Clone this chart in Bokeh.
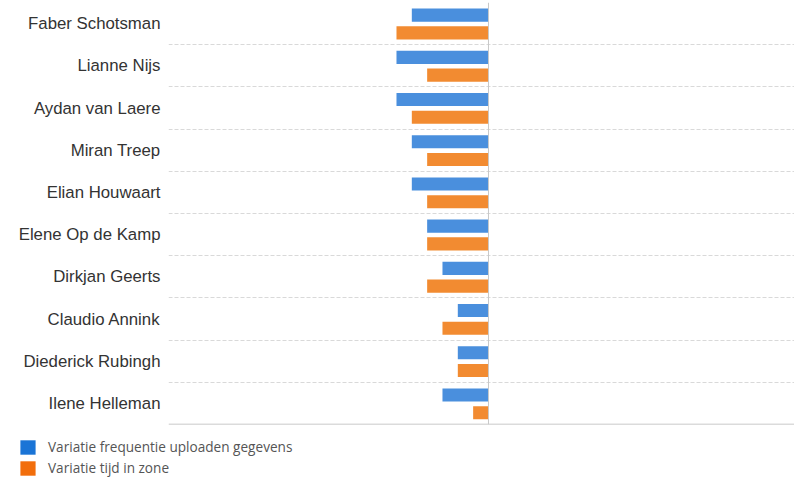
from bokeh.plotting import figure
from bokeh.models import ColumnDataSource, Range1d, FixedTicker, Span, Legend, LegendItem
from bokeh.embed import file_html
from bokeh.resources import INLINE

names = ["Faber Schotsman", "Lianne Nijs", "Aydan van Laere", "Miran Treep", "Elian Houwaart",
         "Elene Op de Kamp", "Dirkjan Geerts", "Claudio Annink", "Diederick Rubingh", "Ilene Helleman"]
freq = [-5, -6, -6, -5, -5, -4, -3, -2, -2, -3]
tijd = [-6, -4, -5, -4, -4, -4, -4, -3, -2, -1]
series_labels = ["Variatie frequentie uploaden gegevens", "Variatie tijd in zone"]

n = len(names)
pos = [n - 0.5 - i for i in range(n)]
src = ColumnDataSource(dict(
    pos=pos,
    pos_f=[p_ + 0.2 for p_ in pos],
    pos_t=[p_ - 0.22 for p_ in pos],
    freq=freq, tijd=tijd, names=names))

p = figure(width=794, height=430, output_backend="svg", toolbar_location=None,
           x_range=Range1d(-20.87, 19.96), y_range=Range1d(0, n),
           min_border_left=168, min_border_right=0, min_border_top=2, min_border_bottom=6)
p.outline_line_color = None

p.hbar(y="pos_f", right="freq", left=0, height=0.31, source=src, color="#4a8fdd", line_color=None)
p.hbar(y="pos_t", right="tijd", left=0, height=0.31, source=src, color="#f28b31", line_color=None)

p.xaxis.visible = False
yax = p.yaxis[0]
yax.ticker = FixedTicker(ticks=pos)
yax.major_label_overrides = {pv: nm for pv, nm in zip(pos, names)}
yax.axis_line_color = None
yax.major_tick_line_color = None
yax.minor_tick_line_color = None
yax.major_tick_out = 0
yax.major_label_standoff = 8
yax.major_label_text_font = "Liberation Sans"
yax.major_label_text_font_size = "16.8px"
yax.major_label_text_color = "#333333"

p.xgrid.grid_line_color = None
p.ygrid.ticker = FixedTicker(ticks=list(range(1, n + 1)))
p.ygrid.grid_line_color = "#d9d9d9"
p.ygrid.grid_line_dash = "4 2"
p.ygrid.grid_line_width = 1

p.add_layout(Span(location=0, dimension="width", line_color="#b8b8b8", line_width=1.5))
p.add_layout(Span(location=0, dimension="height", line_color="#c8c8c8", line_width=1))

# legend in its own strip below the chart (separate root, so its frame is not aligned)
lg = figure(width=794, height=47, output_backend="svg", toolbar_location=None,
            x_range=Range1d(0, 1), y_range=Range1d(0, 1),
            min_border_left=0, min_border_right=0, min_border_top=0, min_border_bottom=0)
lg.outline_line_color = None
lg.axis.visible = False
lg.grid.visible = False
# swatch-only renderers (placed outside the visible range; used for the legend keys)
r1 = lg.quad(left=[-3], right=[-2], top=[-2], bottom=[-3], fill_color="#1a74d6", line_color=None)
r2 = lg.quad(left=[-3], right=[-2], top=[-2], bottom=[-3], fill_color="#f26e0c", line_color=None)
legend = Legend(items=[LegendItem(label=series_labels[0], renderers=[r1]),
                       LegendItem(label=series_labels[1], renderers=[r2])],
                location=(18, 0), padding=0, margin=0, spacing=2,
                glyph_width=19, glyph_height=18, label_height=14, label_standoff=11,
                label_text_font="Open Sans", label_text_font_size="13.6px",
                label_text_color="#555555", border_line_color=None,
                background_fill_alpha=0)
lg.add_layout(legend)

open("out.html", "w").write(file_html([p, lg], INLINE))
